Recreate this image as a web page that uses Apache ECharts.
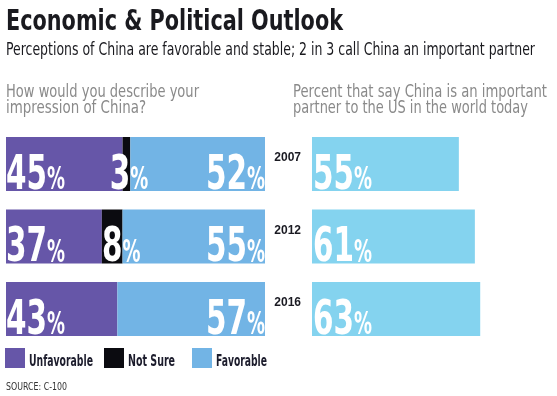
<!DOCTYPE html>
<html><head><meta charset="utf-8">
<script src="https://cdn.jsdelivr.net/npm/echarts@6/dist/echarts.min.js"></script>
<style>html,body{margin:0;padding:0;background:#fff}#c{width:557px;height:396px}</style>
</head><body><div id="c"></div>
<script>
const years = ['2007', '2012', '2016'];
const unfavorable = [45, 37, 43];
const notSure = [3, 8, 0];
const favorable = [52, 55, 57];
const importantPartner = [55, 61, 63];
const seriesNames = ['Unfavorable', 'Not Sure', 'Favorable'];
const titleText = 'Economic & Political Outlook';
const subtitleText = 'Perceptions of China are favorable and stable; 2 in 3 call China an important partner';
const leftQuestion = ['How would you describe your', 'impression of China?'];
const rightQuestion = ['Percent that say China is an important', 'partner to the US in the world today'];
const sourceText = 'SOURCE: C-100';

const NARROW = '"Liberation Sans Narrow", "DejaVu Sans Condensed", "Liberation Sans", sans-serif';
const COLORS = { unf: '#6656a8', ns: '#0b0b10', fav: '#72b4e5', imp: '#84d3ef' };

const ctx = document.createElement('canvas').getContext('2d');
function textW(text, font) { ctx.font = font; return ctx.measureText(text).width; }
function fitText(text, x, baseline, size, weight, color, targetWidth) {
  const font = weight + ' ' + size + 'px ' + NARROW;
  return {
    type: 'text', x: x, y: baseline - 0.35 * size, scaleX: targetWidth / textW(text, font),
    style: { text: text, font: font, fill: color, verticalAlign: 'middle', align: 'left' },
    silent: true
  };
}

// big white percentage labels
const NUM_SIZE = 48, PCT_SIZE = 31.5;
const NUM_FONT = 'bold ' + NUM_SIZE + 'px ' + NARROW;
const PCT_FONT = 'bold ' + PCT_SIZE + 'px ' + NARROW;
const NUM_SCALE = 41 / textW('45', NUM_FONT);
const PCT_SCALE = 18 / textW('%', PCT_FONT);
const BAR_W = 54;
function lblText(str, font, x, y, scale) {
  return { type: 'text', x: x, y: y, scaleX: scale, silent: true,
    style: { text: str, font: font, fill: '#fff', align: 'left', verticalAlign: 'bottom' } };
}
function pctLabel(val, x, bottom, anchor) {
  // anchor: 'left' (label starts at x), 'right' (label ends at x), 'split' (number ends at x, % starts at x)
  const s = String(val);
  const wn = textW(s, NUM_FONT) * NUM_SCALE, wp = textW('%', PCT_FONT) * PCT_SCALE;
  const yN = bottom + 0.19 * NUM_SIZE, yP = bottom + 0.19 * PCT_SIZE;
  let xn, xp;
  if (anchor === 'left') { xn = x; xp = x + wn; }
  else if (anchor === 'right') { xp = x - wp; xn = xp - wn; }
  else { xn = x - wn; xp = x; }
  return [lblText(s, NUM_FONT, xn, yN, NUM_SCALE), lblText('%', PCT_FONT, xp, yP, PCT_SCALE)];
}

const leftLabelData = years.map((y, i) => [unfavorable[i], notSure[i], favorable[i], i]);
const rightLabelData = years.map((y, i) => [importantPartner[i], i]);

const legendPos = [
  { icon: 5, text: 29, w: 64 },
  { icon: 104, text: 128, w: 47 },
  { icon: 192, text: 216, w: 51 }
];

const chart = echarts.init(document.getElementById('c'), null, { renderer: 'canvas' });
chart.setOption({
  animation: false,
  backgroundColor: '#fff',
  grid: [
    { left: 6, width: 259, top: 127.75, height: 217.5, outerBoundsMode: 'none', containLabel: false },
    { left: 312, width: 267, top: 127.75, height: 217.5, outerBoundsMode: 'none', containLabel: false }
  ],
  xAxis: [
    { gridIndex: 0, type: 'value', min: 0, max: 100, show: false },
    { gridIndex: 1, type: 'value', min: 0, max: 100, show: false }
  ],
  yAxis: [
    { gridIndex: 0, type: 'category', data: years, inverse: true, show: false },
    { gridIndex: 1, type: 'category', data: years, inverse: true,
      axisLine: { show: false }, axisTick: { show: false }, splitLine: { show: false },
      axisLabel: { margin: 11, fontFamily: '"Liberation Sans", sans-serif', fontWeight: 'bold', fontSize: 12,
        color: '#1a1a22', verticalAlign: 'bottom', lineHeight: 12 } }
  ],
  legend: seriesNames.map((name, k) => ({
    data: [name], left: legendPos[k].icon, top: 348,
    icon: 'rect', itemWidth: 20, itemHeight: 20, itemGap: 0, selectedMode: false, padding: 0,
    formatter: () => '', textStyle: { fontSize: 1 }
  })),
  series: [
    { name: seriesNames[0], type: 'bar', stack: 'imp', xAxisIndex: 0, yAxisIndex: 0, data: unfavorable,
      barWidth: BAR_W, itemStyle: { color: COLORS.unf } },
    { name: seriesNames[1], type: 'bar', stack: 'imp', xAxisIndex: 0, yAxisIndex: 0, data: notSure,
      barWidth: BAR_W, itemStyle: { color: COLORS.ns } },
    { name: seriesNames[2], type: 'bar', stack: 'imp', xAxisIndex: 0, yAxisIndex: 0, data: favorable,
      barWidth: BAR_W, itemStyle: { color: COLORS.fav } },
    { name: 'Important partner', type: 'bar', xAxisIndex: 1, yAxisIndex: 1, data: importantPartner,
      barWidth: BAR_W, itemStyle: { color: COLORS.imp } },
    { name: 'impression labels', type: 'custom', xAxisIndex: 0, yAxisIndex: 0, data: leftLabelData,
      encode: { x: 0, y: 3 }, z: 10, silent: true, clip: false,
      renderItem: function (params, api) {
        const u = api.value(0), n = api.value(1), f = api.value(2), i = api.value(3);
        const p0 = api.coord([0, i]), pN = api.coord([u + n, i]), pF = api.coord([u + n + f, i]);
        const bottom = p0[1] + BAR_W / 2;
        let children = pctLabel(u, p0[0], bottom, 'left');
        if (n > 0) children = children.concat(pctLabel(n, pN[0], bottom, 'split'));
        children = children.concat(pctLabel(f, pF[0], bottom, 'right'));
        return { type: 'group', children: children };
      } },
    { name: 'partner labels', type: 'custom', xAxisIndex: 1, yAxisIndex: 1, data: rightLabelData,
      encode: { x: 0, y: 1 }, z: 10, silent: true, clip: false,
      renderItem: function (params, api) {
        const v = api.value(0), i = api.value(1);
        const p0 = api.coord([0, i]);
        return { type: 'group', children: pctLabel(v, p0[0] + 1, p0[1] + BAR_W / 2, 'left') };
      } }
  ],
  graphic: [
    fitText(titleText, 6, 32.5, 28, 'bold', '#1a1a1f', 337),
    fitText(subtitleText, 6, 57, 18, 'normal', '#1a1a1f', 529),
    fitText(leftQuestion[0], 6, 98.5, 18, 'normal', '#8a8a8a', 193),
    fitText(leftQuestion[1], 6, 115, 18, 'normal', '#8a8a8a', 140),
    fitText(rightQuestion[0], 293, 98.5, 18, 'normal', '#8a8a8a', 254),
    fitText(rightQuestion[1], 293, 115, 18, 'normal', '#8a8a8a', 235),
    fitText(sourceText, 6, 391, 10, 'normal', '#333', 61)
  ].concat(seriesNames.map((name, k) =>
    fitText(name, legendPos[k].text, 367, 15, 'bold', '#1c1c2c', legendPos[k].w)))
});
</script></body></html>
